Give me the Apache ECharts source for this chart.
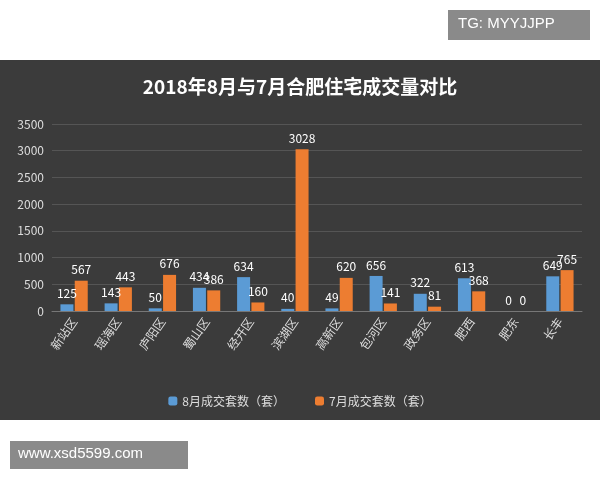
<!DOCTYPE html>
<html>
<head>
<meta charset="utf-8">
<script src="https://cdn.jsdelivr.net/npm/echarts@6/dist/echarts.min.js"></script>
<style>html,body{margin:0;padding:0;background:#fff}#main{width:600px;height:480px}</style>
</head>
<body>
<div id="main"></div>
<script>
let districts = ["新站区", "瑶海区", "庐阳区", "蜀山区", "经开区", "滨湖区", "高新区", "包河区", "政务区", "肥西", "肥东", "长丰"];
let augSales = [125, 143, 50, 434, 634, 40, 49, 656, 322, 613, 0, 649];
let julSales = [567, 443, 676, 386, 160, 3028, 620, 141, 81, 368, 0, 765];

let font = "'Noto Sans CJK SC', sans-serif";

let option = {
  backgroundColor: "#fff",
  textStyle: { fontFamily: font },
  graphic: [
    { type: "rect", z: -10, shape: { x: 0, y: 60, width: 600, height: 360 }, style: { fill: "#3b3b3b" } },
    { type: "rect", shape: { x: 448, y: 10, width: 142, height: 30 }, style: { fill: "#8a8a8a" } },
    { type: "text", left: 458, top: 16, style: { text: "TG: MYYJJPP", fill: "#fff", font: "15px sans-serif" } },
    { type: "rect", shape: { x: 10, y: 441, width: 178, height: 28 }, style: { fill: "#8a8a8a" } },
    { type: "text", left: 18, top: 446, style: { text: "www.xsd5599.com", fill: "#fff", font: "15px sans-serif" } }
  ],
  title: {
    text: "2018年8月与7月合肥住宅成交量对比",
    left: "center",
    top: 72,
    textStyle: { color: "#fff", fontSize: 19, fontWeight: "bold", fontFamily: font }
  },
  color: ["#5b9bd5", "#ed7d31"],
  legend: {
    bottom: 68,
    itemWidth: 9,
    itemHeight: 9,
    itemGap: 30,
    textStyle: { color: "#ddd", fontSize: 12 },
    data: ["8月成交套数（套）", "7月成交套数（套）"]
  },
  grid: { left: 52, right: 18, top: 124, bottom: 169 },
  xAxis: {
    type: "category",
    data: districts,
    axisLine: { lineStyle: { color: "#777" } },
    axisTick: { show: false },
    axisLabel: { color: "#ddd", rotate: 55, fontSize: 12, interval: 0 }
  },
  yAxis: {
    type: "value",
    min: 0,
    max: 3500,
    interval: 500,
    axisLine: { show: false },
    axisTick: { show: false },
    splitLine: { lineStyle: { color: "#555" } },
    axisLabel: { color: "#ddd", fontSize: 12, formatter: function (v) { return String(v); } }
  },
  series: [
    {
      name: "8月成交套数（套）",
      type: "bar",
      data: augSales,
      barWidth: 13,
      barGap: "10%",
      label: { show: true, position: "top", color: "#fff", fontSize: 12 }
    },
    {
      name: "7月成交套数（套）",
      type: "bar",
      data: julSales,
      barWidth: 13,
      label: { show: true, position: "top", color: "#fff", fontSize: 12 }
    }
  ]
};

let chart = echarts.init(document.getElementById("main"));
chart.setOption(option);
</script>
</body>
</html>
